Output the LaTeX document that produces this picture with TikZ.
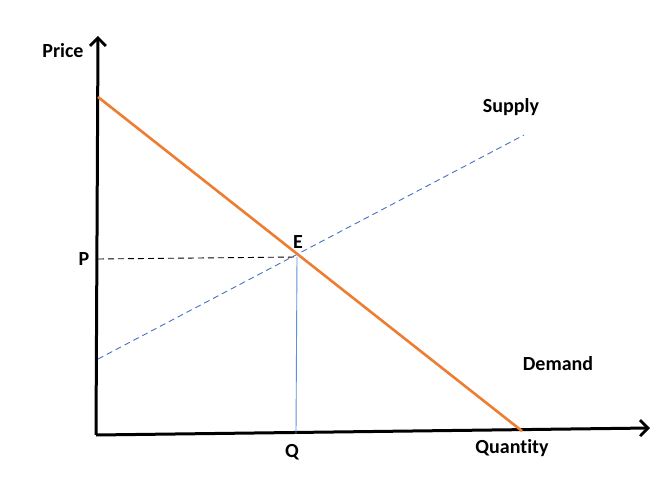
\documentclass[tikz,border=0pt]{standalone}
\usepackage{fontspec}
\setmainfont{Carlito}[Ligatures=NoCommon]
\usetikzlibrary{arrows.meta}
\begin{document}
\begin{tikzpicture}[x=1pt,y=-1pt,
  axis/.style={line width=3pt,black,-{Straight Barb[length=8pt,width=16pt,line width=2.8pt]}},
  lbl/.style={font=\fontsize{20}{24}\selectfont\bfseries,inner sep=0pt},
  demand/.style={line width=2.6pt,color={rgb,255:red,237;green,125;blue,49}},
  supply/.style={line width=0.9pt,color={rgb,255:red,68;green,114;blue,196},dash pattern=on 6pt off 4pt},
  guide/.style={line width=0.9pt,black,dash pattern=on 6pt off 4pt},
  qline/.style={line width=0.9pt,color={rgb,255:red,91;green,145;blue,220}}]
\useasboundingbox (0,0) rectangle (672,478);
\coordinate (O) at (96,435);
\coordinate (ytop) at (98,36);
\coordinate (xend) at (650,428);
\coordinate (D1) at (98,97);
\coordinate (D2) at (522,431);
\coordinate (S1) at (98,359);
\coordinate (S2) at (524,135);
\coordinate (E) at (297,257);
\coordinate (Pax) at (98,259);
\coordinate (Qax) at (296,434);
\draw[axis] (O) -- (ytop);
\draw[axis] (O) -- (xend);
\draw[supply] (S1) -- (S2);
\draw[guide] (Pax) -- (E);
\draw[qline] (Qax) -- (E);
\draw[demand] (D1) -- (D2);
\node[lbl] (price) at (63,51) {Price};
\node[lbl] (supplyl) at (511,107) {Supply};
\node[lbl] (el) at (298,242) {E};
\node[lbl] (pl) at (84,259) {P};
\node[lbl] (demandl) at (558,364) {Demand};
\node[lbl] (ql) at (292,452) {Q};
\node[lbl] (quantity) at (512,448) {Quantity};
\end{tikzpicture}
\end{document}
